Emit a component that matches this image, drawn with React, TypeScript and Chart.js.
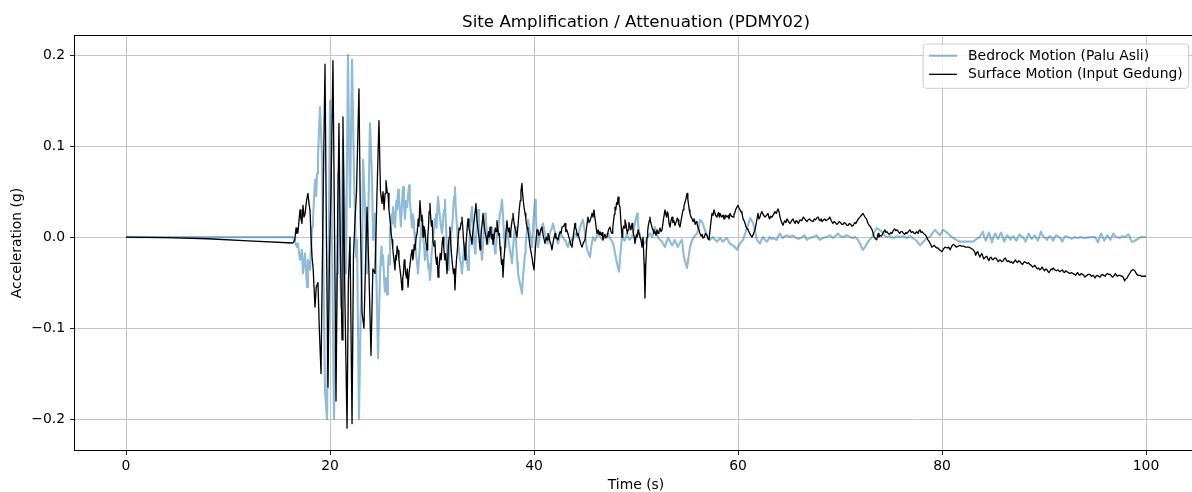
import React, { useEffect, useRef } from "react";
import { Chart, registerables } from "chart.js";

Chart.register(...registerables);

const chartTitle = "Site Amplification / Attenuation (PDMY02)";
const xAxisLabel = "Time (s)";
const yAxisLabel = "Acceleration (g)";
const bedrockLabel = "Bedrock Motion (Palu Asli)";
const surfaceLabel = "Surface Motion (Input Gedung)";

const xTickValues = [0, 20, 40, 60, 80, 100];
const yTickValues = [-0.2, -0.1, 0, 0.1, 0.2];

// [time (s), acceleration (g)]
const bedrockMotion: [number, number][] = [
  [0, 0], [16.37, 0], [16.55, -0.004], [16.76, -0.011], [16.86, -0.007], [17.06, -0.025], [17.25, -0.014], [17.35, -0.04],
  [17.55, -0.018], [17.75, -0.055], [17.84, -0.025], [18.04, -0.036], [18.24, 0.011], [18.33, 0.019], [18.53, 0.063],
  [18.65, 0.045], [18.73, 0.07], [18.82, 0.088], [19.02, 0.143], [19.22, 0.088], [19.31, 0.004], [19.51, -0.168],
  [19.71, -0.2], [19.85, -0.05], [20.0, 0.15], [20.2, -0.003], [20.39, -0.2], [20.55, -0.11], [20.69, -0.04], [20.78, 0.07],
  [20.95, 0.01], [21.08, -0.077], [21.27, 0.107], [21.45, 0.02], [21.57, -0.04], [21.76, 0.2], [21.96, 0.033], [22.16, 0.195],
  [22.35, 0.07], [22.55, -0.022], [22.65, -0.003], [22.84, -0.2], [23.0, -0.09], [23.14, -0.04], [23.24, 0.085], [23.43, 0.033],
  [23.63, -0.04], [23.8, 0.05], [23.92, 0.125], [24.12, 0.063], [24.22, -0.003], [24.41, 0.026], [24.61, -0.077], [24.71, -0.133],
  [24.9, -0.04], [25.05, -0.01], [25.12, -0.03], [25.2, -0.02], [25.3, -0.045], [25.39, -0.06], [25.5, -0.045], [25.59, -0.063],
  [25.68, -0.035], [25.75, -0.02], [25.82, -0.03], [25.88, 0.011], [25.96, 0.0], [26.05, 0.025], [26.12, 0.015], [26.18, 0.033],
  [26.28, 0.02], [26.37, 0.011], [26.44, 0.025], [26.5, 0.04], [26.58, 0.03], [26.67, 0.052], [26.76, 0.04], [26.85, 0.03],
  [26.95, 0.012], [27.06, 0.04], [27.16, 0.055], [27.25, 0.035], [27.35, 0.02], [27.45, 0.04], [27.55, 0.033], [27.65, 0.045],
  [27.75, 0.057], [27.82, 0.04], [27.9, 0.03], [27.97, 0.02], [28.04, 0.011], [28.12, 0.025], [28.2, 0.02], [28.27, 0.005],
  [28.33, -0.003], [28.45, -0.02], [28.55, -0.03], [28.63, -0.04], [28.75, -0.02], [28.85, -0.005], [28.94, 0.01], [29.02, 0.019],
  [29.08, 0.008], [29.15, 0.0], [29.23, -0.012], [29.31, -0.025], [29.4, -0.015], [29.5, -0.01], [29.58, -0.025], [29.65, -0.035],
  [29.72, -0.03], [29.8, -0.047], [29.88, -0.035], [29.95, -0.02], [30.02, -0.012], [30.1, -0.003], [30.2, 0.01], [30.3, 0.02],
  [30.38, 0.025], [30.45, 0.01], [30.52, 0.03], [30.59, 0.044], [30.7, 0.03], [30.8, 0.02], [30.9, 0.01], [30.98, 0.004],
  [31.05, 0.012], [31.12, 0.025], [31.2, 0.03], [31.27, 0.041], [31.35, 0.02], [31.42, 0.0], [31.5, -0.02], [31.57, -0.036],
  [31.65, -0.025], [31.75, -0.01], [31.85, 0.0], [31.96, 0.011], [32.03, 0.02], [32.1, 0.035], [32.18, 0.045], [32.25, 0.055],
  [32.32, 0.035], [32.4, 0.02], [32.48, 0.005], [32.55, -0.007], [32.65, -0.015], [32.75, -0.025], [32.85, -0.03], [32.94, -0.04],
  [33.02, -0.028], [33.1, -0.015], [33.17, -0.01], [33.24, -0.007], [33.32, -0.015], [33.4, -0.025], [33.46, -0.03], [33.53, -0.036],
  [33.62, -0.02], [33.7, 0.0], [33.8, 0.02], [33.92, 0.033], [33.98, 0.02], [34.05, 0.01], [34.13, -0.005], [34.22, -0.018],
  [34.28, -0.008], [34.35, 0.005], [34.43, 0.018], [34.51, 0.03], [34.6, 0.015], [34.7, 0.0], [34.8, -0.012], [34.9, -0.025],
  [34.98, -0.012], [35.05, 0.0], [35.12, 0.015], [35.2, 0.026], [35.28, 0.018], [35.35, 0.01], [35.42, 0.0], [35.49, -0.007],
  [35.6, -0.002], [35.7, 0.004], [35.8, 0.002], [35.88, 0.011], [35.96, 0.006], [36.05, 0.0], [36.12, -0.01], [36.18, -0.018],
  [36.25, -0.012], [36.32, -0.005], [36.4, 0.004], [36.47, 0.008], [36.56, 0.015], [36.65, 0.025], [36.75, 0.03], [36.86, 0.041],
  [36.93, 0.03], [37.0, 0.015], [37.08, 0.0], [37.16, -0.011], [37.23, -0.004], [37.3, 0.005], [37.38, 0.008], [37.45, 0.0],
  [37.55, -0.008], [37.65, -0.015], [37.75, -0.02], [37.84, -0.029], [37.92, -0.015], [38.0, -0.005], [38.07, 0.004], [38.14, 0.011],
  [38.22, 0.0], [38.3, -0.015], [38.37, -0.028], [38.43, -0.04], [38.52, -0.045], [38.6, -0.05], [38.7, -0.055], [38.82, -0.062],
  [38.88, -0.05], [38.95, -0.04], [39.03, -0.03], [39.12, -0.018], [39.18, -0.008], [39.25, 0.0], [39.33, 0.01], [39.41, 0.019],
  [39.5, 0.012], [39.6, 0.005], [39.7, -0.004], [39.8, -0.011], [39.88, 0.004], [39.95, 0.02], [40.02, 0.03], [40.1, 0.041],
  [40.18, 0.025], [40.25, 0.01], [40.32, 0.0], [40.39, -0.011], [40.5, -0.004], [40.6, 0.004], [40.75, 0.01], [40.88, 0.015],
  [41.0, 0.008], [41.1, 0.002], [41.25, -0.003], [41.37, -0.007], [41.5, 0.0], [41.6, 0.006], [41.75, 0.01], [41.86, 0.015],
  [42.0, 0.008], [42.1, 0.003], [42.22, -0.002], [42.35, -0.007], [42.5, 0.0], [42.6, 0.004], [42.72, 0.002], [42.84, 0.0],
  [42.96, -0.003], [43.1, -0.004], [43.22, -0.008], [43.33, -0.011], [43.47, -0.005], [43.6, -0.006], [43.7, -0.002], [43.82, -0.003],
  [43.95, 0.002], [44.05, 0.004], [44.18, 0.001], [44.31, 0.0], [44.42, 0.006], [44.55, 0.012], [44.68, 0.016], [44.8, 0.019],
  [44.9, 0.012], [45.0, 0.004], [45.1, -0.006], [45.2, -0.014], [45.35, -0.018], [45.49, -0.022], [45.62, -0.01], [45.78, 0.0],
  [45.9, -0.003], [46.0, -0.004], [46.14, 0.001], [46.27, 0.004], [46.38, 0.002], [46.5, 0.0], [46.63, -0.002], [46.76, -0.003],
  [46.88, 0.0], [47.0, 0.002], [47.12, 0.003], [47.25, 0.004], [47.38, 0.0], [47.5, -0.002], [47.62, -0.004], [47.75, -0.007],
  [47.85, -0.012], [47.95, -0.018], [48.05, -0.024], [48.14, -0.029], [48.24, -0.034], [48.33, -0.038], [48.42, -0.026], [48.5, -0.015],
  [48.57, -0.006], [48.63, 0.0], [48.76, -0.002], [48.9, -0.004], [49.0, 0.0], [49.12, 0.004], [49.24, 0.0], [49.35, -0.003],
  [49.48, -0.001], [49.61, 0.0], [49.73, 0.006], [49.85, 0.012], [49.98, 0.02], [50.1, 0.026], [50.18, 0.018], [50.25, 0.01],
  [50.32, 0.004], [50.39, 0.0], [50.52, -0.002], [50.65, -0.004], [50.77, -0.006], [50.88, -0.007], [51.0, -0.003], [51.1, 0.0],
  [51.24, 0.002], [51.37, 0.004], [51.48, 0.002], [51.6, 0.0], [51.73, 0.006], [51.86, 0.011],
  [52.0, 0.005], [52.15, 0.0], [52.35, -0.003], [52.55, -0.005], [52.7, -0.008], [52.85, -0.011], [53.0, -0.005], [53.15, -0.001],
  [53.35, -0.005], [53.55, -0.009], [53.68, -0.006], [53.8, -0.003], [53.95, -0.007], [54.1, -0.011], [54.3, -0.006], [54.5, -0.003],
  [54.6, -0.012], [54.7, -0.022], [54.85, -0.028], [55.0, -0.034], [55.15, -0.022], [55.3, -0.011], [55.45, -0.005], [55.6, -0.001],
  [55.8, 0.002], [56.0, 0.004], [56.15, 0.012], [56.3, 0.019], [56.42, 0.017], [56.55, 0.015], [56.75, 0.008], [56.95, 0.002],
  [57.1, 0.0], [57.25, -0.003], [57.4, -0.001], [57.55, 0.0], [57.75, -0.003], [57.95, -0.005], [58.1, -0.003], [58.25, -0.001],
  [58.38, -0.003], [58.5, -0.005], [58.7, -0.003], [58.9, -0.001], [59.05, -0.004], [59.2, -0.007], [59.35, -0.008], [59.5, -0.009],
  [59.7, -0.011], [59.9, -0.014], [60.05, -0.01], [60.2, -0.007], [60.35, -0.005], [60.5, -0.003], [60.7, 0.004], [60.9, 0.011],
  [61.05, 0.016], [61.2, 0.021], [61.35, 0.018], [61.5, 0.015], [61.68, 0.006], [61.85, -0.003], [62.0, -0.005], [62.15, -0.007],
  [62.3, -0.003], [62.45, 0.0], [62.65, -0.003], [62.85, -0.005], [63.0, -0.002], [63.1, 0.0], [63.3, -0.002], [63.45, -0.001],
  [63.6, -0.002], [63.8, -0.003], [63.95, 0.001], [64.1, 0.004], [64.25, 0.001], [64.4, -0.001], [64.6, 0.001], [64.8, 0.002],
  [65.1, 0.0], [65.35, 0.002], [65.6, 0.0], [65.9, -0.002], [66.3, 0.0], [66.5, 0.002], [66.75, -0.003], [67.0, -0.001], [67.35, 0.0],
  [67.7, 0.002], [68.0, -0.003], [68.35, -0.001], [68.7, 0.0], [69.0, 0.002], [69.3, -0.001], [69.55, 0.001], [69.8, 0.004],
  [70.05, 0.001], [70.3, 0.0], [70.65, 0.002], [71.0, 0.0], [71.25, -0.001], [71.5, 0.0], [71.75, -0.003], [71.95, -0.007],
  [72.1, -0.011], [72.25, -0.014], [72.45, -0.011], [72.65, -0.007], [72.9, -0.003], [73.15, 0.0], [73.4, 0.006], [73.6, 0.01],
  [73.85, 0.008], [74.1, 0.006], [74.35, 0.002], [74.6, 0.0], [74.9, 0.001], [75.2, -0.001], [75.55, 0.001], [75.9, 0.0],
  [76.2, 0.001], [76.55, -0.001], [76.85, 0.001], [77.15, -0.001], [77.5, -0.004], [77.85, -0.009], [78.1, -0.006], [78.35, -0.003],
  [78.55, -0.001], [78.8, 0.0], [79.05, 0.004], [79.3, 0.008], [79.55, 0.005], [79.8, 0.002], [79.95, 0.005], [80.1, 0.008],
  [80.35, 0.006], [80.6, 0.004], [80.85, 0.001], [81.1, -0.001], [81.4, -0.003], [81.75, -0.005], [82.1, -0.005], [82.45, -0.005],
  [82.75, -0.005], [83.05, -0.005], [83.4, -0.002], [83.7, 0.0], [84.0, 0.006], [84.15, 0.0], [84.3, -0.004], [84.45, 0.001],
  [84.6, 0.005], [84.75, 0.0], [84.9, -0.006], [85.05, 0.0], [85.2, 0.004], [85.35, 0.001], [85.5, -0.002], [85.65, 0.002],
  [85.8, 0.005], [85.95, 0.0], [86.1, -0.005], [86.25, -0.001], [86.4, 0.002], [86.55, 0.0], [86.7, -0.003], [86.85, 0.0],
  [87.0, 0.001], [87.15, -0.002], [87.3, -0.004], [87.45, 0.0], [87.6, 0.003], [87.75, 0.001], [87.9, 0.0], [88.05, -0.002],
  [88.2, -0.005], [88.35, 0.0], [88.5, 0.004], [88.65, 0.001], [88.8, -0.002], [88.95, 0.0], [89.1, 0.002], [89.25, -0.001],
  [89.4, -0.004], [89.55, 0.001], [89.7, 0.006], [89.85, 0.002], [90.0, 0.0], [90.15, -0.001], [90.3, -0.003], [90.45, 0.0],
  [90.6, 0.001], [90.75, -0.001], [90.9, -0.004], [91.05, 0.0], [91.2, 0.002], [91.35, 0.001], [91.5, 0.0], [91.65, -0.002],
  [91.8, -0.005], [91.95, -0.001], [92.1, 0.001], [92.4, 0.0], [92.7, -0.002], [93.0, 0.0], [93.3, -0.001], [93.6, 0.0],
  [94.0, -0.001], [94.5, 0.0], [95.0, 0.0], [95.15, -0.003], [95.3, -0.006], [95.45, 0.0], [95.6, 0.004], [95.75, 0.0],
  [95.9, -0.004], [96.05, -0.001], [96.2, 0.002], [96.35, 0.0], [96.5, -0.003], [96.65, 0.0], [96.8, 0.004], [96.95, 0.001],
  [97.1, 0.0], [97.4, -0.001], [97.7, 0.001], [98.0, 0.0], [98.15, 0.002], [98.3, 0.003], [98.45, -0.001], [98.6, -0.005],
  [98.75, -0.005], [98.9, -0.004], [99.2, -0.002], [99.5, 0.0], [100.0, 0.0],
];

// [time (s), acceleration (g)]
const surfaceMotion: [number, number][] = [
  [0, 0], [4, -0.0006], [8, -0.0018], [12, -0.0042], [16.37, -0.0065], [16.55, -0.003], [16.67, 0.01], [16.76, 0.004],
  [16.86, 0.005], [16.96, 0.018], [17.06, 0.03], [17.15, 0.02], [17.25, 0.015], [17.35, 0.035], [17.45, 0.022], [17.55, 0.025],
  [17.7, 0.04], [17.84, 0.048], [17.95, 0.036], [18.04, 0.03], [18.14, 0.0], [18.24, -0.022], [18.35, -0.035], [18.53, -0.077],
  [18.65, -0.055], [18.82, -0.05], [18.95, -0.1], [19.12, -0.15], [19.3, 0.02], [19.51, 0.19], [19.65, 0.0], [19.8, -0.165],
  [19.95, -0.02], [20.1, 0.05], [20.29, 0.194], [20.45, 0.0], [20.59, -0.18], [20.75, 0.02], [20.88, 0.125], [21.0, 0.0],
  [21.18, -0.113], [21.27, 0.132], [21.45, -0.06], [21.67, -0.21], [21.8, -0.05], [21.96, 0.0], [22.16, -0.205], [22.3, -0.02],
  [22.45, 0.018], [22.6, 0.05], [22.84, 0.163], [22.98, 0.02], [23.14, -0.083], [23.33, -0.1], [23.48, -0.03], [23.63, 0.033],
  [23.82, -0.04], [24.02, -0.13], [24.2, -0.035], [24.41, -0.04], [24.6, 0.045], [24.8, 0.128], [24.95, 0.05], [25.1, 0.037],
  [25.2, 0.05], [25.3, 0.03], [25.4, 0.048], [25.49, 0.062], [25.6, 0.05], [25.69, 0.048], [25.78, 0.03], [25.88, 0.02],
  [25.98, 0.005], [26.08, -0.003], [26.15, -0.012], [26.22, -0.02], [26.3, -0.028], [26.37, -0.036], [26.44, -0.02], [26.5, -0.025],
  [26.58, -0.01], [26.67, -0.015], [26.76, -0.025], [26.86, -0.035], [26.96, -0.045], [27.06, -0.058], [27.13, -0.045], [27.2, -0.04],
  [27.28, -0.025], [27.35, -0.03], [27.42, -0.04], [27.5, -0.045], [27.58, -0.035], [27.65, -0.055], [27.75, -0.04], [27.85, -0.03],
  [27.95, -0.02], [28.04, -0.014], [28.12, -0.025], [28.18, -0.02], [28.26, -0.008], [28.33, -0.014], [28.45, 0.0], [28.55, 0.005],
  [28.65, 0.02], [28.72, 0.012], [28.82, 0.04], [28.88, 0.03], [28.95, 0.018], [29.03, 0.024], [29.12, 0.0], [29.2, 0.012],
  [29.3, 0.008], [29.4, -0.005], [29.51, -0.014], [29.58, 0.0], [29.65, 0.01], [29.72, 0.028], [29.8, 0.037], [29.88, 0.02],
  [29.95, 0.012], [30.02, 0.018], [30.1, -0.006], [30.2, -0.01], [30.28, -0.004], [30.35, -0.02], [30.45, -0.03], [30.52, -0.022],
  [30.59, -0.044], [30.68, -0.035], [30.8, -0.018], [30.9, -0.025], [31.0, -0.006], [31.08, 0.0], [31.16, -0.012], [31.25, -0.025],
  [31.35, -0.018], [31.47, -0.04], [31.54, -0.028], [31.6, -0.01], [31.68, 0.0], [31.76, 0.011], [31.85, -0.008], [31.92, -0.02],
  [32.0, -0.03], [32.1, -0.04], [32.18, -0.035], [32.25, -0.058], [32.32, -0.04], [32.4, -0.025], [32.48, -0.015], [32.55, -0.004],
  [32.65, 0.01], [32.75, 0.008], [32.85, 0.016], [32.94, 0.022], [33.02, 0.01], [33.1, -0.005], [33.17, -0.012], [33.24, -0.025],
  [33.32, -0.01], [33.4, 0.002], [33.46, 0.012], [33.53, 0.02], [33.62, 0.01], [33.72, 0.004], [33.82, 0.0], [33.92, -0.008],
  [34.0, 0.005], [34.1, 0.015], [34.2, 0.025], [34.31, 0.037], [34.4, 0.02], [34.5, 0.01], [34.6, 0.0], [34.71, -0.014],
  [34.78, -0.004], [34.85, 0.008], [34.92, 0.015], [35.0, 0.026], [35.1, 0.014], [35.2, 0.006], [35.3, 0.0], [35.39, -0.008],
  [35.48, 0.002], [35.55, 0.006], [35.62, 0.0], [35.69, 0.011], [35.78, 0.004], [35.85, -0.002], [35.92, 0.003], [35.98, -0.008],
  [36.1, 0.0], [36.2, 0.01], [36.28, 0.006], [36.37, 0.018], [36.45, 0.01], [36.52, 0.002], [36.6, 0.004], [36.67, -0.011],
  [36.75, -0.02], [36.82, -0.03], [36.9, -0.025], [36.96, -0.044], [37.05, -0.025], [37.15, -0.01], [37.25, 0.005], [37.35, 0.018],
  [37.42, 0.01], [37.5, 0.006], [37.58, 0.01], [37.65, 0.0], [37.72, 0.006], [37.8, 0.014], [37.88, 0.02], [37.94, 0.026],
  [38.05, 0.015], [38.15, 0.01], [38.25, 0.004], [38.33, 0.0], [38.45, 0.015], [38.55, 0.03], [38.65, 0.04], [38.72, 0.05],
  [38.82, 0.059], [38.88, 0.048], [38.95, 0.04], [39.03, 0.032], [39.12, 0.026], [39.2, 0.02], [39.25, 0.015], [39.33, 0.01],
  [39.41, 0.007], [39.5, 0.0], [39.6, -0.01], [39.7, -0.016], [39.8, -0.022], [39.9, -0.03], [40.0, -0.036], [40.15, -0.01],
  [40.29, 0.008], [40.39, 0.008], [40.47, 0.002], [40.55, 0.003], [40.66, 0.008], [40.78, 0.011], [40.9, 0.002], [41.08, -0.007],
  [41.2, 0.0], [41.28, -0.003], [41.37, 0.004], [41.46, 0.001], [41.55, -0.004], [41.66, -0.008], [41.76, -0.014], [41.9, -0.004],
  [42.06, 0.004], [42.14, -0.001], [42.2, 0.0], [42.35, -0.003], [42.45, 0.002], [42.55, 0.006], [42.65, 0.004], [42.75, 0.011],
  [42.9, 0.012], [43.04, 0.015], [43.12, 0.006], [43.2, 0.008], [43.33, 0.004], [43.42, 0.0], [43.5, -0.003], [43.6, -0.008],
  [43.73, -0.011], [43.87, 0.003], [44.02, 0.015], [44.08, 0.01], [44.15, 0.008], [44.24, 0.002], [44.31, 0.004], [44.4, 0.0],
  [44.5, -0.004], [44.6, -0.008], [44.71, -0.011], [44.85, -0.006], [45.0, -0.003], [45.15, 0.01], [45.29, 0.022], [45.4, 0.016],
  [45.5, 0.018], [45.6, 0.022], [45.69, 0.026], [45.78, 0.022], [45.88, 0.03], [45.96, 0.022], [46.05, 0.015], [46.12, 0.008],
  [46.18, 0.004], [46.3, 0.008], [46.38, 0.003], [46.47, 0.006], [46.6, 0.002], [46.68, 0.005], [46.76, -0.003], [46.85, 0.0],
  [46.95, 0.003], [47.05, -0.001], [47.16, 0.0], [47.3, 0.008], [47.45, 0.011], [47.55, 0.006], [47.65, 0.004], [47.72, 0.01],
  [47.8, 0.018], [47.87, 0.025], [47.94, 0.033], [48.02, 0.03], [48.1, 0.038], [48.17, 0.036], [48.24, 0.044], [48.33, 0.036],
  [48.43, 0.033], [48.53, 0.015], [48.63, 0.0], [48.7, 0.008], [48.78, 0.012], [48.85, 0.01], [48.92, 0.019], [49.0, 0.015],
  [49.05, 0.012], [49.15, 0.004], [49.22, 0.008], [49.3, 0.016], [49.4, 0.012], [49.5, 0.008], [49.61, 0.015], [49.68, 0.01],
  [49.75, 0.004], [49.82, 0.0], [49.9, -0.007], [49.98, -0.002], [50.05, 0.003], [50.12, 0.0], [50.2, 0.008], [50.3, 0.004],
  [50.4, 0.0], [50.5, -0.004], [50.59, -0.011], [50.69, 0.0], [50.8, -0.03], [50.88, -0.067], [50.96, -0.03], [51.08, 0.0],
  [51.14, 0.006], [51.2, 0.012], [51.3, 0.018], [51.37, 0.022], [51.44, 0.016], [51.5, 0.014], [51.58, 0.01], [51.67, 0.008],
  [51.76, 0.004], [51.86, 0.006], [51.96, 0.002], [52.06, 0.008], [52.16, 0.004], [52.25, 0.006], [52.35, 0.01], [52.45, 0.006],
  [52.55, 0.008], [52.7, 0.02], [52.84, 0.03], [52.92, 0.025], [53.0, 0.022], [53.07, 0.028], [53.14, 0.026], [53.24, 0.015],
  [53.33, 0.011], [53.43, 0.018], [53.53, 0.022], [53.62, 0.016], [53.72, 0.018], [53.82, 0.013], [53.95, 0.017], [54.05, 0.021],
  [54.12, 0.019], [54.2, 0.014], [54.31, 0.011], [54.45, 0.02], [54.61, 0.03], [54.7, 0.034], [54.8, 0.038], [54.9, 0.042],
  [55.0, 0.048], [55.08, 0.042], [55.15, 0.036], [55.22, 0.03], [55.29, 0.026], [55.4, 0.022], [55.5, 0.02], [55.59, 0.017],
  [55.7, 0.02], [55.8, 0.014], [55.9, 0.017], [55.98, 0.015], [56.07, 0.011], [56.15, 0.009], [56.27, 0.004], [56.4, 0.001],
  [56.5, 0.003], [56.57, -0.001], [56.7, 0.0], [56.8, 0.004], [56.96, 0.002], [57.06, -0.002], [57.16, -0.003], [57.3, 0.012],
  [57.45, 0.026], [57.55, 0.024], [57.65, 0.03], [57.8, 0.024], [57.94, 0.022], [58.02, 0.025], [58.1, 0.027], [58.17, 0.022],
  [58.24, 0.026], [58.38, 0.022], [58.53, 0.024], [58.62, 0.02], [58.7, 0.02], [58.8, 0.024], [58.92, 0.022], [59.05, 0.024],
  [59.12, 0.02], [59.22, 0.026], [59.35, 0.023], [59.51, 0.022], [59.6, 0.025], [59.7, 0.027], [59.8, 0.031], [59.9, 0.033],
  [60.0, 0.035], [60.1, 0.032], [60.2, 0.03], [60.3, 0.028], [60.39, 0.026], [60.5, 0.02], [60.6, 0.018], [60.69, 0.015],
  [60.8, 0.011], [60.9, 0.009], [60.98, 0.008], [61.1, 0.005], [61.2, 0.003], [61.3, 0.001], [61.37, 0.0], [61.5, 0.003],
  [61.67, 0.008], [61.8, 0.016], [61.96, 0.026], [62.05, 0.02], [62.15, 0.022], [62.25, 0.026], [62.35, 0.028], [62.5, 0.024],
  [62.65, 0.022], [62.8, 0.024], [62.94, 0.026], [63.02, 0.022], [63.1, 0.02], [63.2, 0.023], [63.33, 0.022], [63.48, 0.025],
  [63.63, 0.028], [63.75, 0.026], [63.92, 0.031], [64.02, 0.028], [64.12, 0.022], [64.25, 0.017], [64.41, 0.013], [64.5, 0.016],
  [64.6, 0.018], [64.7, 0.016], [64.8, 0.02], [64.95, 0.017], [65.1, 0.015], [65.25, 0.018], [65.39, 0.02], [65.5, 0.017],
  [65.6, 0.015], [65.7, 0.018], [65.78, 0.017], [65.92, 0.015], [66.08, 0.019], [66.25, 0.018], [66.4, 0.022], [66.55, 0.02],
  [66.75, 0.017], [66.88, 0.019], [67.0, 0.02], [67.18, 0.018], [67.35, 0.017], [67.48, 0.02], [67.6, 0.019], [67.72, 0.021],
  [67.85, 0.022], [67.95, 0.019], [68.05, 0.018], [68.15, 0.02], [68.25, 0.017], [68.38, 0.019], [68.5, 0.02], [68.62, 0.018],
  [68.75, 0.019], [68.88, 0.02], [69.0, 0.022], [69.15, 0.018], [69.3, 0.015], [69.42, 0.017], [69.55, 0.016], [69.68, 0.014],
  [69.8, 0.015], [69.92, 0.017], [70.05, 0.016], [70.18, 0.014], [70.3, 0.014], [70.42, 0.016], [70.55, 0.015], [70.68, 0.013],
  [70.8, 0.013], [70.92, 0.015], [71.05, 0.014], [71.18, 0.012], [71.3, 0.013], [71.45, 0.016], [71.55, 0.015], [71.65, 0.017],
  [71.8, 0.02], [71.95, 0.022], [72.1, 0.024], [72.25, 0.026], [72.35, 0.024], [72.45, 0.022], [72.6, 0.02], [72.75, 0.015],
  [72.85, 0.013], [72.95, 0.012], [73.05, 0.01], [73.15, 0.008], [73.25, 0.004], [73.35, 0.0], [73.48, -0.002], [73.6, -0.003],
  [73.68, 0.001], [73.75, 0.004], [73.82, 0.0], [73.9, 0.002], [74.05, 0.001], [74.2, 0.004], [74.3, 0.006], [74.4, 0.008],
  [74.5, 0.005], [74.6, 0.006], [74.72, 0.004], [74.85, 0.003], [74.98, 0.005], [75.1, 0.004], [75.22, 0.007], [75.35, 0.009],
  [75.48, 0.007], [75.6, 0.008], [75.72, 0.006], [75.85, 0.004], [75.98, 0.006], [76.1, 0.006], [76.22, 0.004], [76.35, 0.003],
  [76.45, 0.005], [76.55, 0.004], [76.7, 0.006], [76.85, 0.008], [77.0, 0.005], [77.15, 0.006], [77.28, 0.004], [77.4, 0.004],
  [77.52, 0.006], [77.65, 0.004], [77.75, 0.007], [77.85, 0.008], [77.95, 0.005], [78.05, 0.006], [78.18, 0.004], [78.3, 0.003],
  [78.4, 0.002], [78.5, 0.0], [78.62, -0.003], [78.75, -0.005], [78.88, -0.008], [79.0, -0.011], [79.12, -0.01], [79.25, -0.009],
  [79.38, -0.011], [79.5, -0.012], [79.62, -0.012], [79.75, -0.014], [79.88, -0.015], [80.0, -0.016], [80.15, -0.013], [80.3, -0.011],
  [80.5, -0.012], [80.65, -0.011], [80.8, -0.014], [80.95, -0.01], [81.1, -0.008], [81.25, -0.009], [81.4, -0.011], [81.6, -0.01],
  [81.75, -0.009], [81.9, -0.01], [82.1, -0.01], [82.3, -0.011], [82.45, -0.011], [82.6, -0.011], [82.8, -0.012], [82.95, -0.013],
  [83.05, -0.014], [83.2, -0.016], [83.3, -0.02], [83.4, -0.017], [83.5, -0.016], [83.6, -0.019], [83.7, -0.022], [83.8, -0.02],
  [83.9, -0.018], [84.0, -0.021], [84.1, -0.024], [84.25, -0.022], [84.4, -0.021], [84.5, -0.024], [84.6, -0.026], [84.7, -0.023],
  [84.8, -0.022], [84.9, -0.024], [85.0, -0.025], [85.15, -0.023], [85.3, -0.023], [85.4, -0.025], [85.5, -0.027], [85.6, -0.026],
  [85.7, -0.025], [85.85, -0.027], [86.0, -0.026], [86.1, -0.024], [86.2, -0.023], [86.3, -0.025], [86.4, -0.027], [86.55, -0.026],
  [86.7, -0.028], [86.82, -0.027], [86.95, -0.029], [87.08, -0.027], [87.2, -0.025], [87.3, -0.027], [87.4, -0.028], [87.52, -0.026],
  [87.65, -0.027], [87.78, -0.029], [87.9, -0.03], [88.0, -0.028], [88.1, -0.027], [88.22, -0.028], [88.35, -0.029], [88.48, -0.028],
  [88.6, -0.03], [88.75, -0.031], [88.9, -0.033], [89.0, -0.032], [89.1, -0.031], [89.22, -0.033], [89.35, -0.035], [89.48, -0.034],
  [89.6, -0.036], [89.7, -0.035], [89.8, -0.033], [89.92, -0.035], [90.05, -0.037], [90.18, -0.035], [90.3, -0.036], [90.4, -0.038],
  [90.5, -0.039], [90.6, -0.037], [90.7, -0.035], [90.8, -0.036], [90.9, -0.034], [91.05, -0.036], [91.2, -0.037], [91.38, -0.036],
  [91.55, -0.038], [91.68, -0.037], [91.8, -0.036], [91.9, -0.038], [92.0, -0.039], [92.12, -0.037], [92.25, -0.038], [92.38, -0.039],
  [92.5, -0.04], [92.68, -0.039], [92.85, -0.04], [92.98, -0.041], [93.1, -0.042], [93.2, -0.04], [93.3, -0.039], [93.4, -0.041],
  [93.5, -0.042], [93.65, -0.04], [93.8, -0.041], [93.9, -0.042], [94.0, -0.044], [94.1, -0.043], [94.2, -0.042], [94.35, -0.041],
  [94.5, -0.041], [94.65, -0.043], [94.8, -0.042], [94.9, -0.043], [95.0, -0.045], [95.1, -0.043], [95.2, -0.042], [95.35, -0.043],
  [95.5, -0.044], [95.6, -0.042], [95.7, -0.041], [95.85, -0.042], [96.0, -0.043], [96.1, -0.041], [96.2, -0.04], [96.35, -0.041],
  [96.5, -0.041], [96.62, -0.043], [96.75, -0.044], [96.88, -0.042], [97.0, -0.04], [97.1, -0.042], [97.2, -0.043], [97.32, -0.042],
  [97.45, -0.042], [97.58, -0.043], [97.7, -0.043], [97.8, -0.045], [97.9, -0.048], [98.02, -0.046], [98.15, -0.045], [98.28, -0.042],
  [98.4, -0.04], [98.55, -0.037], [98.7, -0.036], [98.8, -0.036], [98.9, -0.037], [99.0, -0.039], [99.1, -0.041], [99.25, -0.042],
  [99.4, -0.042], [99.55, -0.043], [99.7, -0.043], [99.85, -0.043], [100.0, -0.043],
];

const FONT = "'DejaVu Sans', sans-serif";
const TEXT_SIZE = 13.9;

const fmtY = (v: number) => {
  const s = Math.abs(v) < 1e-9 ? "0.0" : v.toFixed(1);
  return s.replace("-", "\u2212");
};

const framePlugin = {
  id: "frame",
  afterDraw(chart: any) {
    const { ctx, chartArea: a } = chart;
    ctx.save();
    ctx.strokeStyle = "#000";
    ctx.lineWidth = 1;
    const l = Math.round(a.left) - 0.5;
    const t = Math.round(a.top) - 0.5;
    const r = Math.round(a.right) + 0.5;
    const b = Math.round(a.bottom) + 0.5;
    ctx.strokeRect(l, t, r - l, b - t);
    ctx.restore();
  },
};

const legendPlugin = {
  id: "mplLegend",
  afterDraw(chart: any) {
    const { ctx, chartArea: a } = chart;
    const items = [chart.data.datasets[0], chart.data.datasets[1]];
    ctx.save();
    ctx.font = `${TEXT_SIZE}px ${FONT}`;
    const textW = Math.max(...items.map((d: any) => ctx.measureText(d.label).width));
    const boxW = 6 + 28 + 11 + textW + 6;
    const boxH = 44.3;
    const right = a.right - 8.3;
    const left = right - boxW;
    const top = a.top + 8;
    const r = 3;
    ctx.beginPath();
    ctx.moveTo(left + r, top);
    ctx.lineTo(right - r, top);
    ctx.arcTo(right, top, right, top + r, r);
    ctx.lineTo(right, top + boxH - r);
    ctx.arcTo(right, top + boxH, right - r, top + boxH, r);
    ctx.lineTo(left + r, top + boxH);
    ctx.arcTo(left, top + boxH, left, top + boxH - r, r);
    ctx.lineTo(left, top + r);
    ctx.arcTo(left, top, left + r, top, r);
    ctx.closePath();
    ctx.fillStyle = "rgba(255,255,255,0.8)";
    ctx.fill();
    ctx.strokeStyle = "#cccccc";
    ctx.lineWidth = 1;
    ctx.stroke();
    items.forEach((d: any, i: number) => {
      const y = top + 11.7 + i * 18.6;
      ctx.beginPath();
      ctx.strokeStyle = d.borderColor;
      ctx.lineWidth = d.borderWidth;
      ctx.moveTo(left + 6, y);
      ctx.lineTo(left + 34, y);
      ctx.stroke();
      ctx.fillStyle = "#000";
      ctx.textBaseline = "middle";
      ctx.textAlign = "left";
      ctx.fillText(d.label, left + 45, y + 0.5);
    });
    ctx.restore();
  },
};

export default function App() {
  const canvasRef = useRef<HTMLCanvasElement | null>(null);

  useEffect(() => {
    const canvas = canvasRef.current;
    if (!canvas) return;
    const chart = new Chart(canvas, {
      type: "line",
      data: {
        datasets: [
          {
            label: bedrockLabel,
            data: bedrockMotion.map(([x, y]) => ({ x, y })),
            borderColor: "rgba(31,119,180,0.5)",
            backgroundColor: "rgba(31,119,180,0.5)",
            borderWidth: 2.1,
            pointRadius: 0,
            tension: 0,
            borderJoinStyle: "round",
            order: 2,
          },
          {
            label: surfaceLabel,
            data: surfaceMotion.map(([x, y]) => ({ x, y })),
            borderColor: "#000000",
            backgroundColor: "#000000",
            borderWidth: 1.3,
            pointRadius: 0,
            tension: 0,
            borderJoinStyle: "round",
            order: 1,
          },
        ],
      },
      options: {
        responsive: false,
        animation: false,
        devicePixelRatio: 1,
        events: [],
        layout: { padding: { left: 0, right: 3, top: 0, bottom: 0 } },
        plugins: {
          legend: { display: false },
          tooltip: { enabled: false },
          title: {
            display: true,
            text: chartTitle,
            fullSize: false,
            color: "#000",
            font: { family: FONT, size: 16.7, weight: "normal", lineHeight: 1.2 },
            padding: { top: 13, bottom: 3 },
          },
        },
        scales: {
          x: {
            type: "linear",
            min: -5,
            max: 105,
            afterBuildTicks: (scale: any) => {
              scale.ticks = xTickValues.map((v) => ({ value: v }));
            },
            afterFit: (scale: any) => {
              scale.height = 42;
            },
            ticks: {
              color: "#000",
              font: { family: FONT, size: TEXT_SIZE },
              padding: 3,
              maxRotation: 0,
              callback: (v: any) => String(Math.round(Number(v))),
            },
            grid: {
              color: "#c4c4c4",
              lineWidth: 1,
              tickColor: "#222",
              tickLength: 5,
              drawTicks: true,
            },
            border: { display: false },
            title: {
              display: true,
              text: xAxisLabel,
              color: "#000",
              font: { family: FONT, size: TEXT_SIZE, lineHeight: 1 },
              padding: { top: 0, bottom: 0 },
            },
          },
          y: {
            type: "linear",
            min: -0.234,
            max: 0.221,
            afterBuildTicks: (scale: any) => {
              scale.ticks = yTickValues.map((v) => ({ value: v }));
            },
            afterFit: (scale: any) => {
              scale.width = 75;
            },
            ticks: {
              color: "#000",
              font: { family: FONT, size: TEXT_SIZE },
              padding: 5,
              callback: (v: any) => fmtY(Number(v)),
            },
            grid: {
              color: "#c4c4c4",
              lineWidth: 1,
              tickColor: "#222",
              tickLength: 5,
              drawTicks: true,
            },
            border: { display: false },
            title: {
              display: true,
              text: yAxisLabel,
              color: "#000",
              font: { family: FONT, size: TEXT_SIZE, lineHeight: 1.2 },
              padding: { top: 9, bottom: 0 },
            },
          },
        },
      },
      plugins: [framePlugin, legendPlugin],
    } as any);
    return () => chart.destroy();
  }, []);

  return (
    <div
      style={{
        position: "absolute",
        left: 0,
        top: 0,
        width: 1192,
        height: 492,
        overflow: "hidden",
        background: "#fff",
      }}
    >
      <canvas ref={canvasRef} width={1200} height={492} style={{ width: 1200, height: 492, display: "block" }} />
    </div>
  );
}
